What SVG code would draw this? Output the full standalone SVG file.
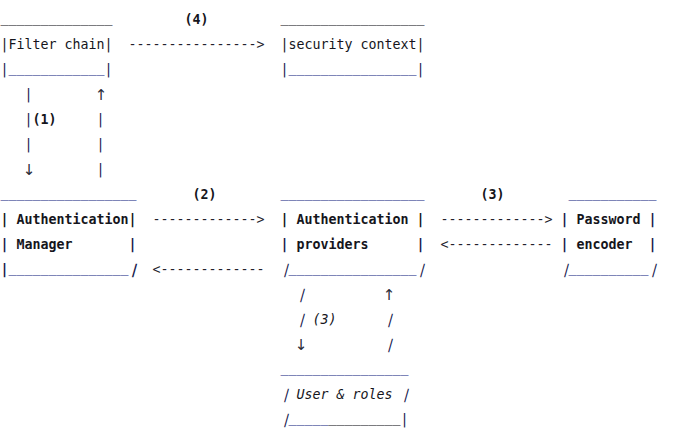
<svg xmlns="http://www.w3.org/2000/svg" width="683" height="437" viewBox="0 0 683 437">
<style>
text{font-family:"DejaVu Sans Mono","Liberation Mono",monospace;font-size:13.3px;fill:#15151c;white-space:pre}
.b{font-weight:bold}
.i{font-style:italic}
.u{fill:#27338e}
.k{fill:#15151c}
.bar{fill:#17204d}
.arr{fill:#22222b}
.ar{font-family:"DejaVu Sans",sans-serif;font-size:15px;text-anchor:middle;fill:#2a2a36}
</style>
<defs>
<text id="sl" x="0" y="0" class="bar">|</text>
<text id="slb" x="0" y="0" class="bar b">|</text>
</defs>
<rect width="683" height="437" fill="#ffffff"/>
<g id="filter-chain">
<text x="0.5" y="22" class="k">______________</text>
<text x="0.5" y="49">|Filter chain|</text>
<text x="0.5" y="74" class="bar">|</text>
<text x="8.5" y="72" class="u">____________</text>
<text x="104.5" y="74" class="bar">|</text>
</g>
<g id="security-context">
<text x="280.5" y="22" class="k">__________________</text>
<text x="280.5" y="49">|security context|</text>
<text x="280.5" y="74" class="bar">|</text>
<text x="288.5" y="72" class="u">________________</text>
<text x="416.5" y="74" class="bar">|</text>
</g>
<g id="authentication-manager">
<text x="0.5" y="197" class="u">_________________</text>
<text x="0.5" y="224" class="b">| Authentication|</text>
<text x="0.5" y="249" class="b bar">|</text>
<text x="16.5" y="249" class="b">Manager</text>
<text x="128.5" y="249" class="b bar">|</text>
<text x="0.5" y="274" class="b bar">|</text>
<text x="8.5" y="272" class="u">_______________</text>
<use href="#slb" transform="translate(129.5,274) skewX(-16)"/>
</g>
<g id="authentication-providers">
<text x="280.5" y="197" class="u">__________________</text>
<text x="280.5" y="224" class="b">| Authentication |</text>
<text x="280.5" y="249" class="b bar">|</text>
<text x="296.5" y="249" class="b">providers</text>
<text x="416.5" y="249" class="b bar">|</text>
<use href="#sl" transform="translate(281.5,274) skewX(-16)"/>
<text x="288.5" y="272" class="u">________________</text>
<use href="#sl" transform="translate(417.5,274) skewX(-16)"/>
</g>
<g id="password-encoder">
<text x="568.5" y="197" class="u">___________</text>
<text x="560.5" y="224" class="b bar">|</text>
<text x="576.5" y="224" class="b">Password</text>
<text x="648.5" y="224" class="b bar">|</text>
<text x="560.5" y="249" class="b bar">|</text>
<text x="576.5" y="249" class="b">encoder</text>
<text x="648.5" y="249" class="b bar">|</text>
<use href="#sl" transform="translate(561.5,274) skewX(-16)"/>
<text x="568.5" y="272" class="u">__________</text>
<use href="#sl" transform="translate(649.5,274) skewX(-16)"/>
</g>
<g id="user-roles">
<text x="280.5" y="372" class="u">________________</text>
<use href="#sl" transform="translate(281.5,399) skewX(-16)"/>
<text x="296.5" y="399" class="i">User &amp; roles</text>
<use href="#sl" transform="translate(401.5,399) skewX(-16)"/>
<use href="#sl" transform="translate(281.5,424) skewX(-16)"/>
<text x="288.5" y="422" class="u">_____</text>
<text x="328.5" y="422" class="k">_________</text>
<text x="400.5" y="424" class="bar">|</text>
</g>
<g id="connectors">
<text x="184.5" y="24" class="b">(4)</text>
<text x="128.5" y="49" class="arr">----------------&gt;</text>
<text x="24.5" y="99" class="bar">|</text>
<text x="101" y="100" class="ar">↑</text>
<text x="24.5" y="124" class="bar">|</text>
<text x="32.5" y="124" class="b">(1)</text>
<text x="96.5" y="124" class="bar">|</text>
<text x="24.5" y="149" class="bar">|</text>
<text x="96.5" y="149" class="bar">|</text>
<text x="29" y="175" class="ar">↓</text>
<text x="96.5" y="174" class="bar">|</text>
<text x="192.5" y="199" class="b">(2)</text>
<text x="480.5" y="199" class="b">(3)</text>
<text x="152.5" y="224" class="arr">-------------&gt;</text>
<text x="440.5" y="224" class="arr">-------------&gt;</text>
<text x="440.5" y="249" class="arr">&lt;-------------</text>
<text x="152.5" y="274" class="arr">&lt;-------------</text>
<use href="#sl" transform="translate(297.5,299) skewX(-16)"/>
<text x="389" y="300" class="ar">↑</text>
<use href="#sl" transform="translate(297.5,324) skewX(-16)"/>
<text x="312.5" y="324" class="i">(3)</text>
<use href="#sl" transform="translate(385.5,324) skewX(-16)"/>
<text x="301" y="350" class="ar">↓</text>
<use href="#sl" transform="translate(385.5,349) skewX(-16)"/>
</g>
</svg>
